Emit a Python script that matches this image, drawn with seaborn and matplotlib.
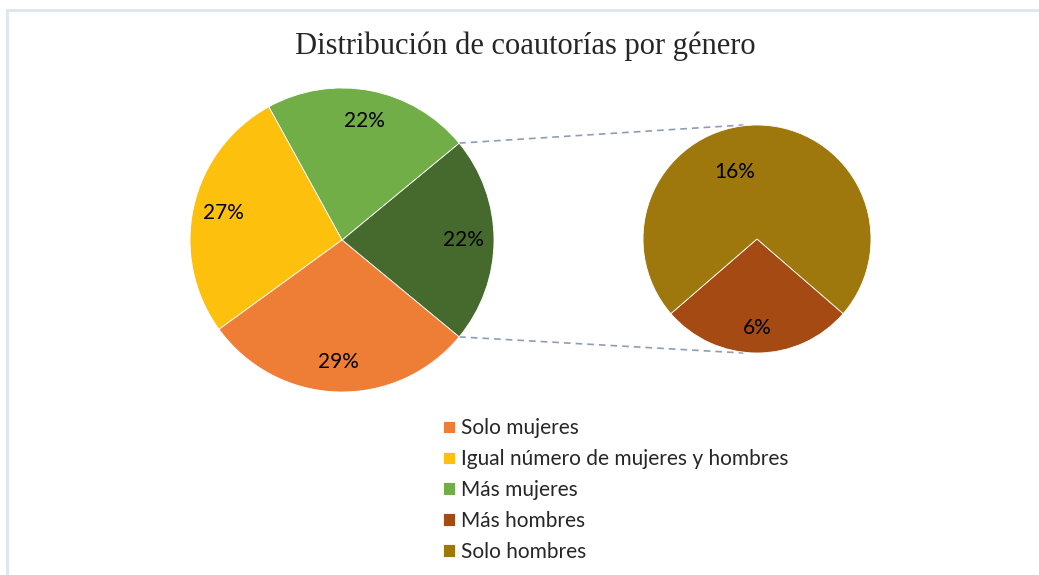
"""Pie-of-pie: distribución de coautorías por género."""

import matplotlib
matplotlib.use("Agg")
import matplotlib.pyplot as plt
from matplotlib.patches import Rectangle
import numpy as np
import seaborn as sns

# --- data ---
main_labels = ["Otros", "Más mujeres", "Igual número de mujeres y hombres", "Solo mujeres"]
main_pct = [22, 22, 27, 29]
main_colors = ["#466A2E", "#71AE48", "#FDC00C", "#EE7E35"]

sub_labels = ["Más hombres", "Solo hombres"]
sub_pct = [6, 16]
sub_colors = ["#A54A12", "#9E780C"]

legend_order = ["Solo mujeres", "Igual número de mujeres y hombres", "Más mujeres",
                "Más hombres", "Solo hombres"]

TITLE = "Distribución de coautorías por género"

W, H = 1039, 575
PX = 152.0          # pixels per data unit (main pie radius)
MAIN_C = (342, 240)  # pixel centre of main pie
SUB_C = (757, 239)
SUB_R = 114 / PX


def main():
    sns.set_style("white")
    plt.rcParams["font.family"] = ["Lato", "DejaVu Sans"]

    fig = plt.figure(figsize=(W / 100, H / 100), dpi=100)
    ax = fig.add_axes([0, 0, 1, 1])

    sub_cx = (SUB_C[0] - MAIN_C[0]) / PX
    sub_cy = (MAIN_C[1] - SUB_C[1]) / PX

    # main pie, "Otros" wedge centred on the right-hand side
    start = -main_pct[0] / 100 * 360 / 2
    wedges, _, autotexts = ax.pie(
        main_pct, colors=main_colors, startangle=start, counterclock=True,
        autopct="%d%%", pctdistance=0.8, radius=1.0, center=(0, 0),
        wedgeprops=dict(edgecolor="white", linewidth=0.6),
        textprops=dict(fontsize=15, color="black"))

    # second pie, the small wedge pointing down
    sub_start = 270 - sub_pct[0] / sum(sub_pct) * 360 / 2
    sub_wedges, _, sub_texts = ax.pie(
        sub_pct, colors=sub_colors, startangle=sub_start, counterclock=True,
        autopct=lambda p: f"{round(p * sum(sub_pct) / 100):d}%",
        pctdistance=0.78, radius=SUB_R, center=(sub_cx, sub_cy),
        wedgeprops=dict(edgecolor="white", linewidth=0.6),
        textprops=dict(fontsize=15, color="black"))
    # Excel places the big-slice label a bit left of centre and higher up
    t = sub_texts[1]
    t.set_position((t.get_position()[0] - 0.145, sub_cy + 0.44))

    # connector lines from the "Otros" wedge to the second pie
    w = wedges[0]
    for ang, sy in ((w.theta2, 1), (w.theta1, -1)):
        x0 = np.cos(np.radians(ang))
        y0 = np.sin(np.radians(ang))
        ax.plot([x0, sub_cx - 0.09], [y0, sub_cy + sy * SUB_R], color="#8E9CB6",
                linestyle=(0, (4, 3)), linewidth=1.2, zorder=0)

    ax.set_aspect("auto")
    ax.set_xlim(-MAIN_C[0] / PX, (W - MAIN_C[0]) / PX)
    ax.set_ylim(-(H - MAIN_C[1]) / PX, MAIN_C[1] / PX)
    ax.axis("off")

    fig.text(525 / W, 1 - 46 / H, TITLE, ha="center", va="center",
             fontsize=22, family="Liberation Serif")

    # legend
    lookup = dict(zip(main_labels + sub_labels, list(wedges) + list(sub_wedges)))
    handles = [lookup[k] for k in legend_order]
    fig.legend(handles, legend_order, loc="upper left",
               bbox_to_anchor=(433 / W, 1 - 408 / H), frameon=False,
               fontsize=15, handlelength=0.55, handleheight=0.55,
               handletextpad=0.3, labelspacing=0.52, borderpad=0)

    # cropped chart-area frame
    fig.patches.append(Rectangle((7 / W, -0.1), 1.2, 1 - 10 / H + 0.1,
                                 transform=fig.transFigure, fill=False,
                                 edgecolor="#DFE5EE", linewidth=2))

    fig.savefig("out.png", dpi=100)


if __name__ == "__main__":
    main()
